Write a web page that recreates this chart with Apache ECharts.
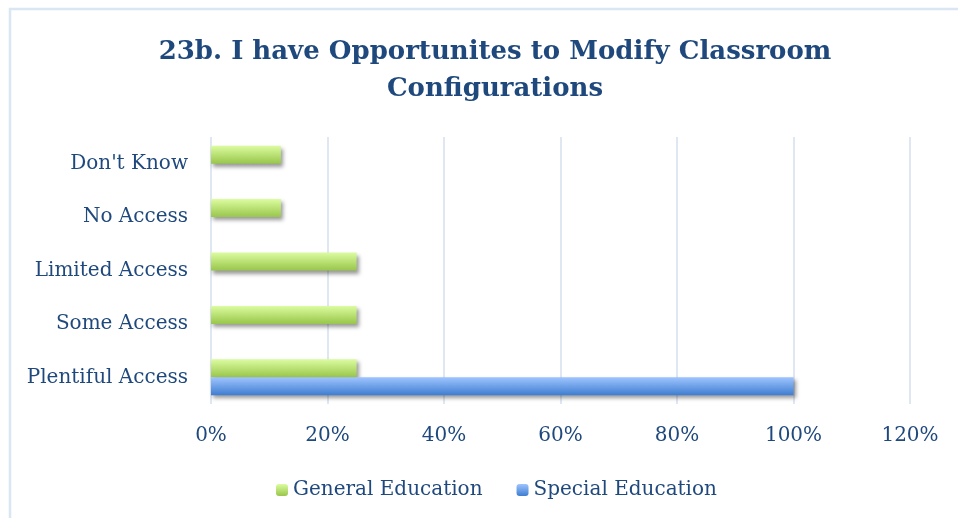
<!DOCTYPE html>
<html>
<head>
<meta charset="utf-8">
<script src="https://cdn.jsdelivr.net/npm/echarts@6/dist/echarts.min.js"></script>
<style>
  html,body{margin:0;padding:0;background:#fff;}
  #chart{width:958px;height:518px;}
</style>
</head>
<body>
<div id="chart"></div>
<script>
  const categories = ['Plentiful Access', 'Some Access', 'Limited Access', 'No Access', "Don't Know"];
  const generalEd = [25, 25, 25, 12, 12];
  const specialEd = [100, 0, 0, 0, 0];
  const xTicks = [0, 20, 40, 60, 80, 100, 120];

  const txt = '#1f497d';
  const serif = '"DejaVu Serif", "Liberation Serif", serif';

  const greenGrad = new echarts.graphic.LinearGradient(0, 0, 0, 1, [
    {offset: 0, color: '#dcfca0'},
    {offset: 1, color: '#98c64a'}
  ]);
  const blueGrad = new echarts.graphic.LinearGradient(0, 0, 0, 1, [
    {offset: 0, color: '#9fc4ff'},
    {offset: 1, color: '#3d7dd0'}
  ]);

  const chart = echarts.init(document.getElementById('chart'));
  chart.setOption({
    animation: false,
    title: {
      text: '23b. I have Opportunites to Modify Classroom\nConfigurations',
      left: 490,
      textAlign: 'center',
      top: 29,
      textStyle: {
        fontFamily: serif,
        fontWeight: 'bold',
        fontSize: 26,
        lineHeight: 37,
        color: txt
      }
    },
    graphic: [{
      type: 'rect',
      shape: {x: 10, y: 9, width: 960, height: 520},
      style: {fill: 'none', stroke: '#dbe6f4', lineWidth: 2.5},
      silent: true
    }],
    legend: {
      top: 475,
      left: 271,
      itemWidth: 12,
      itemHeight: 12,
      itemGap: 34,
      textStyle: {fontFamily: serif, fontSize: 20, color: txt},
      data: [
        {name: 'General Education', itemStyle: {color: greenGrad}},
        {name: 'Special Education', itemStyle: {color: blueGrad}}
      ]
    },
    grid: {left: 211, right: 48, top: 137, bottom: 114},
    xAxis: {
      type: 'value',
      min: xTicks[0],
      max: xTicks[xTicks.length - 1],
      interval: 20,
      axisLine: {show: false},
      axisTick: {show: false},
      axisLabel: {
        formatter: '{value}%',
        margin: 22,
        fontFamily: serif,
        fontSize: 20,
        color: txt
      },
      splitLine: {lineStyle: {color: '#d3dfee', width: 1.5}}
    },
    yAxis: {
      type: 'category',
      data: categories,
      axisLine: {show: false},
      axisTick: {show: false},
      axisLabel: {
        margin: 23,
        fontFamily: serif,
        fontSize: 20,
        color: txt
      }
    },
    series: [{
      name: 'General Education',
      type: 'bar',
      data: generalEd,
      barWidth: 18,
      barGap: '0%',
      itemStyle: {
        color: greenGrad,
        shadowBlur: 4,
        shadowOffsetX: 2,
        shadowOffsetY: 3,
        shadowColor: 'rgba(0,0,0,0.4)'
      }
    }, {
      name: 'Special Education',
      type: 'bar',
      data: specialEd.map(v => v === 0 ? null : v),
      barWidth: 18,
      barGap: '0%',
      itemStyle: {
        color: blueGrad,
        shadowBlur: 4,
        shadowOffsetX: 2,
        shadowOffsetY: 3,
        shadowColor: 'rgba(0,0,0,0.4)'
      }
    }]
  });
</script>
</body>
</html>
